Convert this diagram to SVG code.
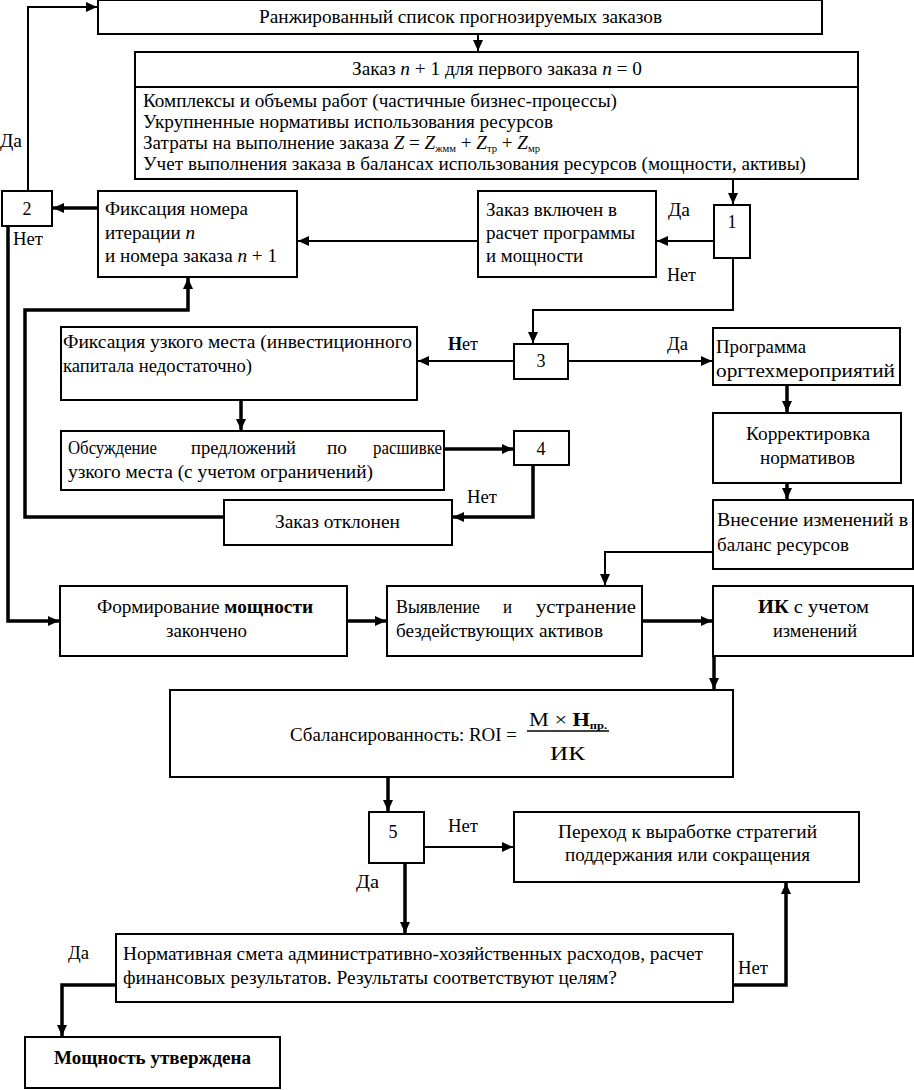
<svg xmlns="http://www.w3.org/2000/svg" width="914" height="1090" viewBox="0 0 914 1090" font-family="'Liberation Serif', 'DejaVu Serif', serif">
<defs>
<marker id="ah" markerUnits="userSpaceOnUse" markerWidth="11" markerHeight="10" refX="11" refY="5" orient="auto">
<path d="M0,0 L11,5 L0,10 z" fill="#000"/>
</marker>
<style>
text{font-family:'Liberation Serif','DejaVu Serif',serif;font-size:18px;fill:#000}
.b{fill:#fff;stroke:#000;stroke-width:2}
.c{fill:none;stroke:#000;stroke-width:2}
.t{fill:none;stroke:#000;stroke-width:3.5}
.m{text-anchor:middle}
.bold{font-weight:bold}
.sub{font-size:10px}
</style>
</defs>
<rect width="914" height="1090" fill="#fff"/>
<g id="connectors">
<path class="c" d="M28,191 V7 H97" marker-end="url(#ah)"/>
<path class="c" d="M478,34 V51" marker-end="url(#ah)"/>
<path class="c" d="M733,179 V204" marker-end="url(#ah)"/>
<path class="c" d="M714,241 H657" marker-end="url(#ah)"/>
<path class="c" d="M478,241 H298" marker-end="url(#ah)"/>
<path class="t" d="M98,208 H53" marker-end="url(#ah)"/>
<path class="t" d="M8,226 V621 H59" marker-end="url(#ah)"/>
<path class="c" d="M733,258 V310 H533 V343" marker-end="url(#ah)"/>
<path class="t" d="M224,517 H25 V310 H188 V278" marker-end="url(#ah)"/>
<path class="c" d="M514,361 H418" marker-end="url(#ah)"/>
<path class="c" d="M568,361 H712" marker-end="url(#ah)"/>
<path class="t" d="M241,400 V430" marker-end="url(#ah)"/>
<path class="t" d="M442,449 H513" marker-end="url(#ah)"/>
<path class="t" d="M533,465 V517 H453" marker-end="url(#ah)"/>
<path class="t" d="M787,385 V412" marker-end="url(#ah)"/>
<path class="t" d="M787,483 V499" marker-end="url(#ah)"/>
<path class="c" d="M713,552 H605 V585" marker-end="url(#ah)"/>
<path class="t" d="M347,621 H386" marker-end="url(#ah)"/>
<path class="t" d="M642,621 H712" marker-end="url(#ah)"/>
<path class="t" d="M714,656 V689" marker-end="url(#ah)"/>
<path class="t" d="M388,777 V811" marker-end="url(#ah)"/>
<path class="c" d="M424,847 H513" marker-end="url(#ah)"/>
<path class="t" d="M405,863 V933" marker-end="url(#ah)"/>
<path class="t" d="M733,985 H786 V883" marker-end="url(#ah)"/>
<path class="t" d="M116,985 H62 V1036" marker-end="url(#ah)"/>
<text x="0" y="147" textLength="22" lengthAdjust="spacingAndGlyphs">Да</text>
<text x="13" y="245" textLength="30" lengthAdjust="spacingAndGlyphs">Нет</text>
<text x="668" y="216" textLength="22" lengthAdjust="spacingAndGlyphs">Да</text>
<text x="667" y="281" textLength="29" lengthAdjust="spacingAndGlyphs">Нет</text>
<text x="448" y="350" textLength="30" lengthAdjust="spacingAndGlyphs"><tspan class="bold">Н</tspan>ет</text>
<text x="667" y="350" textLength="21" lengthAdjust="spacingAndGlyphs">Да</text>
<text x="467" y="503" textLength="30" lengthAdjust="spacingAndGlyphs">Нет</text>
<text x="448" y="832" textLength="30" lengthAdjust="spacingAndGlyphs">Нет</text>
<text x="356" y="888" textLength="23" lengthAdjust="spacingAndGlyphs">Да</text>
<text x="738" y="974" textLength="30" lengthAdjust="spacingAndGlyphs">Нет</text>
<text x="68" y="959" textLength="21" lengthAdjust="spacingAndGlyphs">Да</text>
</g>
<g id="ranked">
<rect class="b" x="98" y="0" width="724" height="34"/>
<text x="259" y="23" textLength="403" lengthAdjust="spacingAndGlyphs">Ранжированный список прогнозируемых заказов</text>
</g>
<g id="order">
<rect class="b" x="135" y="52" width="723" height="127"/>
<line class="c" x1="135" y1="87" x2="858" y2="87"/>
<text x="352" y="75" font-size="17" textLength="290" lengthAdjust="spacingAndGlyphs">Заказ <tspan font-style="italic">n</tspan> + 1 для первого заказа <tspan font-style="italic">n</tspan> = 0</text>
<text x="143" y="107" textLength="474" lengthAdjust="spacingAndGlyphs">Комплексы и объемы работ (частичные бизнес-процессы)</text>
<text x="143" y="128" textLength="410" lengthAdjust="spacingAndGlyphs">Укрупненные нормативы использования ресурсов</text>
<text x="143" y="149" textLength="397" lengthAdjust="spacingAndGlyphs">Затраты на выполнение заказа <tspan font-style="italic">Z</tspan> = <tspan font-style="italic">Z</tspan><tspan class="sub" dy="3">жмм</tspan><tspan dy="-3"> + </tspan><tspan font-style="italic">Z</tspan><tspan class="sub" dy="3">тр</tspan><tspan dy="-3"> + </tspan><tspan font-style="italic">Z</tspan><tspan class="sub" dy="3">мр</tspan></text>
<text x="143" y="170" textLength="663" lengthAdjust="spacingAndGlyphs">Учет выполнения заказа в балансах использования ресурсов (мощности, активы)</text>
</g>
<g id="d1">
<rect class="b" x="714" y="205" width="36" height="53"/>
<text class="m" x="732" y="228">1</text>
</g>
<g id="included">
<rect class="b" x="478" y="191" width="178" height="86"/>
<text x="486" y="216" textLength="131" lengthAdjust="spacingAndGlyphs">Заказ включен в</text>
<text x="486" y="239" textLength="149" lengthAdjust="spacingAndGlyphs">расчет программы</text>
<text x="486" y="262" textLength="97" lengthAdjust="spacingAndGlyphs">и мощности</text>
</g>
<g id="fix-iter">
<rect class="b" x="98" y="191" width="199" height="86"/>
<text x="105" y="215" textLength="143" lengthAdjust="spacingAndGlyphs">Фиксация номера</text>
<text x="105" y="239" textLength="90" lengthAdjust="spacingAndGlyphs">итерации <tspan font-style="italic">n</tspan></text>
<text x="105" y="262" textLength="172" lengthAdjust="spacingAndGlyphs">и номера заказа <tspan font-style="italic">n</tspan> + 1</text>
</g>
<g id="d2">
<rect class="b" x="2" y="191" width="50" height="35"/>
<text class="m" x="27" y="215">2</text>
</g>
<g id="bottleneck">
<rect class="b" x="61" y="327" width="356" height="73"/>
<text x="63" y="348" textLength="349" lengthAdjust="spacingAndGlyphs">Фиксация узкого места (инвестиционного</text>
<text x="63" y="372" textLength="189" lengthAdjust="spacingAndGlyphs">капитала недостаточно)</text>
</g>
<g id="d3">
<rect class="b" x="514" y="344" width="54" height="35"/>
<text class="m" x="541" y="367">3</text>
</g>
<g id="program">
<rect class="b" x="713" y="328" width="187" height="57"/>
<text x="716" y="353" font-size="19" textLength="90" lengthAdjust="spacingAndGlyphs">Программа</text>
<text x="716" y="377" font-size="19" textLength="179" lengthAdjust="spacingAndGlyphs">оргтехмероприятий</text>
</g>
<g id="correction">
<rect class="b" x="713" y="413" width="188" height="70"/>
<text x="746" y="440" font-size="19" textLength="124" lengthAdjust="spacingAndGlyphs">Корректировка</text>
<text x="760" y="464" font-size="19" textLength="95" lengthAdjust="spacingAndGlyphs">нормативов</text>
</g>
<g id="discuss">
<rect class="b" x="61" y="431" width="383" height="59"/>
<text y="454"><tspan x="68" textLength="89" lengthAdjust="spacingAndGlyphs">Обсуждение</tspan><tspan x="191" textLength="105" lengthAdjust="spacingAndGlyphs">предложений</tspan><tspan x="327" textLength="20" lengthAdjust="spacingAndGlyphs">по</tspan><tspan x="373" textLength="69" lengthAdjust="spacingAndGlyphs">расшивке</tspan></text>
<text x="68" y="478" textLength="305" lengthAdjust="spacingAndGlyphs">узкого места (с учетом ограничений)</text>
</g>
<g id="d4">
<rect class="b" x="514" y="431" width="55" height="34"/>
<text class="m" x="541" y="455">4</text>
</g>
<g id="rejected">
<rect class="b" x="224" y="500" width="228" height="45"/>
<text x="275" y="528" textLength="125" lengthAdjust="spacingAndGlyphs">Заказ отклонен</text>
</g>
<g id="balance-change">
<rect class="b" x="713" y="500" width="200" height="69"/>
<text x="717" y="526" font-size="19" textLength="191" lengthAdjust="spacingAndGlyphs">Внесение изменений в</text>
<text x="717" y="551" font-size="19" textLength="132" lengthAdjust="spacingAndGlyphs">баланс ресурсов</text>
</g>
<g id="formed">
<rect class="b" x="60" y="586" width="287" height="70"/>
<text x="97" y="613" textLength="216" lengthAdjust="spacingAndGlyphs">Формирование <tspan class="bold">мощности</tspan></text>
<text x="166" y="637" textLength="81" lengthAdjust="spacingAndGlyphs">закончено</text>
</g>
<g id="idle">
<rect class="b" x="387" y="586" width="255" height="70"/>
<text y="613"><tspan x="396" textLength="84" lengthAdjust="spacingAndGlyphs">Выявление</tspan><tspan x="503" textLength="9" lengthAdjust="spacingAndGlyphs">и</tspan><tspan x="536" textLength="100" lengthAdjust="spacingAndGlyphs">устранение</tspan></text>
<text x="396" y="637" textLength="207" lengthAdjust="spacingAndGlyphs">бездействующих активов</text>
</g>
<g id="ik">
<rect class="b" x="713" y="586" width="200" height="70"/>
<text x="758" y="613" textLength="111" lengthAdjust="spacingAndGlyphs"><tspan class="bold">ИК</tspan>  с учетом</text>
<text x="773" y="637" textLength="84" lengthAdjust="spacingAndGlyphs">изменений</text>
</g>
<g id="roi">
<rect class="b" x="170" y="690" width="563" height="87"/>
<text x="290" y="741" textLength="227" lengthAdjust="spacingAndGlyphs">Сбалансированность: ROI =</text>
<text x="529" y="726" font-size="21" textLength="78" lengthAdjust="spacingAndGlyphs">М × <tspan class="bold">Н</tspan><tspan font-size="10" class="bold" dy="3">пр.</tspan></text>
<line x1="527" y1="731" x2="609" y2="731" stroke="#000" stroke-width="1.5"/>
<text x="550" y="760" font-size="23" textLength="35" lengthAdjust="spacingAndGlyphs">ИК</text>
</g>
<g id="d5">
<rect class="b" x="369" y="812" width="55" height="51"/>
<text class="m" x="393" y="838">5</text>
</g>
<g id="strategy">
<rect class="b" x="514" y="812" width="345" height="70"/>
<text x="558" y="838" textLength="259" lengthAdjust="spacingAndGlyphs">Переход к выработке стратегий</text>
<text x="565" y="861" textLength="245" lengthAdjust="spacingAndGlyphs">поддержания или сокращения</text>
</g>
<g id="estimate">
<rect class="b" x="116" y="934" width="617" height="68"/>
<text x="123" y="960" textLength="580" lengthAdjust="spacingAndGlyphs">Нормативная смета административно-хозяйственных расходов, расчет</text>
<text x="123" y="984" textLength="494" lengthAdjust="spacingAndGlyphs">финансовых результатов. Результаты соответствуют целям?</text>
</g>
<g id="approved">
<rect class="b" x="25" y="1037" width="255" height="51"/>
<text class="bold" x="54" y="1064" textLength="197" lengthAdjust="spacingAndGlyphs">Мощность утверждена</text>
</g>
</svg>
